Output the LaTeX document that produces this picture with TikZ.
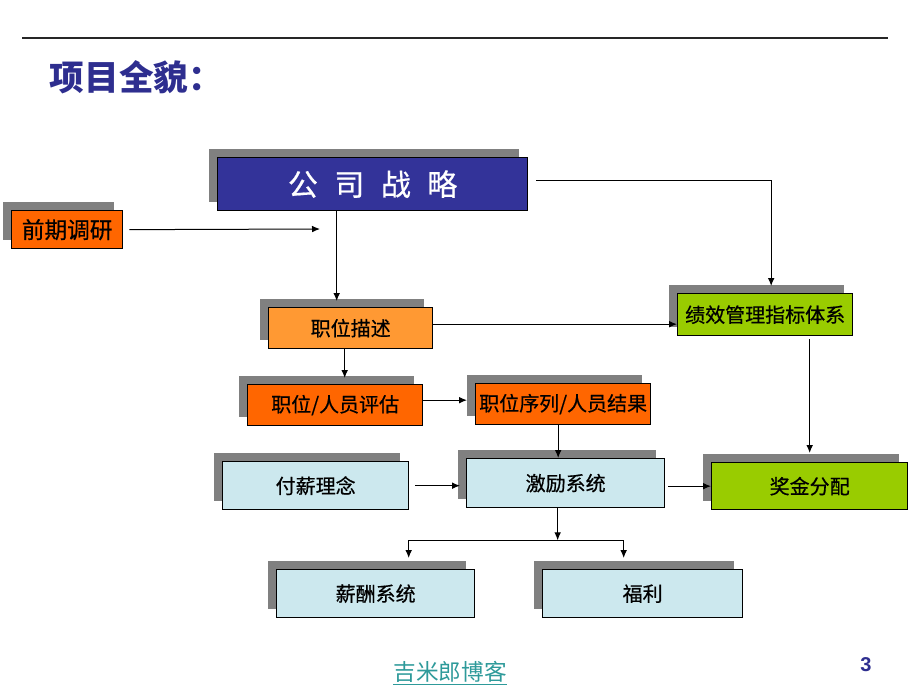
\documentclass[tikz,border=0pt]{standalone}
\usepackage{fontspec}
\setmainfont{Noto Sans CJK SC}
\newfontfamily\boxfont{Noto Sans CJK SC}[FakeBold=0.6]
\newfontfamily\numfont{Liberation Sans}
\usetikzlibrary{shadows,arrows.meta}
\definecolor{stratblue}{HTML}{333399}
\definecolor{deeporange}{HTML}{FF6600}
\definecolor{lightorange}{HTML}{FF9933}
\definecolor{leafgreen}{HTML}{99CC00}
\definecolor{paleblue}{HTML}{CCE8EE}
\definecolor{shadowgray}{HTML}{808080}
\definecolor{linkteal}{HTML}{2E9A9A}
\definecolor{titleblue}{HTML}{2E2E8F}
\newcommand{\px}{0.75pt}

\begin{document}
\begin{tikzpicture}[box/.style={draw, rectangle, anchor=north west, line width=1pt, inner sep=0pt, font=\boxfont\fontsize{15}{15}\selectfont, general shadow={fill=shadowgray, shadow xshift=-6.75pt, shadow yshift=6.75pt}},
    arr/.style={-{Latex[length=6pt,width=5pt]}, line width=0.75pt}]
    \useasboundingbox (0,0) rectangle (920*\px,-690*\px);

    % Header
    \coordinate (rule-l) at (22*\px,-38*\px);
    \coordinate (rule-r) at (888*\px,-38*\px);
    \draw[line width=1.2pt, black!85] (rule-l) -- (rule-r);
    \node[anchor=west, text=titleblue, font=\fontsize{26}{26}\selectfont\bfseries] (title) at (45*\px,-77*\px) {项目全貌：};

    % First row
    \node[box, fill=stratblue, text=white, minimum width=310*\px, minimum height=53*\px, font=\boxfont\fontsize{22.5}{22.5}\selectfont] (strat) at (217*\px,-157*\px) {公\hspace{0.55em}司\hspace{0.55em}战\hspace{0.55em}略};
    \node[box, fill=deeporange, minimum width=111*\px, minimum height=38*\px, font=\boxfont\fontsize{17}{17}\selectfont] (survey) at (11*\px,-210*\px) {前期调研};
    \coordinate (sv) at (320*\px,-229*\px);

    % Second row
    \node[box, fill=lightorange, minimum width=164*\px, minimum height=41*\px] (jobdesc) at (268*\px,-307*\px) {职位描述};
    \node[box, fill=leafgreen, minimum width=175*\px, minimum height=42*\px] (kpi) at (677*\px,-293*\px) {绩效管理指标体系};

    % Third row
    \node[box, fill=deeporange, minimum width=175*\px, minimum height=41*\px] (evalu) at (247*\px,-384*\px) {职位/人员评估};
    \node[box, fill=deeporange, minimum width=175*\px, minimum height=41*\px] (seq) at (475*\px,-383*\px) {职位序列/人员结果};

    % Fourth row
    \node[box, fill=paleblue, minimum width=186*\px, minimum height=48*\px] (paid) at (222*\px,-461*\px) {付薪理念};
    \node[box, fill=paleblue, minimum width=198*\px, minimum height=49*\px] (incent) at (466*\px,-458*\px) {激励系统};
    \node[box, fill=leafgreen, minimum width=196*\px, minimum height=47*\px] (bonus) at (711*\px,-462*\px) {奖金分配};

    % Fifth row
    \node[box, fill=paleblue, minimum width=198*\px, minimum height=48*\px] (salary) at (276*\px,-569*\px) {薪酬系统};
    \node[box, fill=paleblue, minimum width=200*\px, minimum height=48*\px] (welfare) at (542*\px,-569*\px) {福利};
    \coordinate (fork) at ([xshift=-8*\px,yshift=-32*\px]incent.south);

    % Connectors
    \draw[arr, shorten <=6*\px] (survey.east) -- (sv);
    \draw[arr] ([xshift=-36*\px]strat.south) -- ([xshift=-14*\px,yshift=6*\px]jobdesc.north);
    \draw[arr, shorten <=8*\px] ([yshift=4*\px]strat.east) -| ([xshift=6*\px,yshift=7*\px]kpi.north);
    \draw[arr] ([yshift=4*\px]jobdesc.east) -- ([yshift=4*\px]jobdesc.east -| kpi.west);
    \draw[arr, shorten <=3*\px] (bonus.north |- kpi.south) -- ([yshift=9*\px]bonus.north);
    \draw[arr, shorten >=6*\px] ([xshift=-6*\px]jobdesc.south) -- ([xshift=-6*\px]jobdesc.south |- evalu.north);
    \draw[arr, shorten >=8*\px] ([yshift=5*\px]evalu.east) -- ([yshift=5*\px]evalu.east -| seq.west);
    \draw[arr] ([xshift=-5*\px]seq.south) -- ([xshift=-5*\px]seq.south |- incent.north);
    \draw[arr, shorten <=6*\px, shorten >=6*\px] (paid.east) -- (paid.east -| incent.west);
    \draw[arr, shorten <=3*\px] ([yshift=-3*\px]incent.east) -- ([yshift=-3*\px]incent.east -| bonus.west);
    \draw[arr] ([xshift=-8*\px]incent.south) -- (fork);
    \draw[arr] (fork) -| ([xshift=33*\px,yshift=11*\px]salary.north);
    \draw[arr] (fork) -| ([xshift=-19*\px,yshift=11*\px]welfare.north);

    % Footer
    \node[text=linkteal, font=\fontsize{17}{17}\selectfont] (blog) at (450*\px,-673*\px) {\underline{吉米郎博客}};
    \node[text=titleblue, font=\fontsize{15}{15}\selectfont\numfont\bfseries] (page) at (866*\px,-665*\px) {3};

\end{tikzpicture}
\end{document}
